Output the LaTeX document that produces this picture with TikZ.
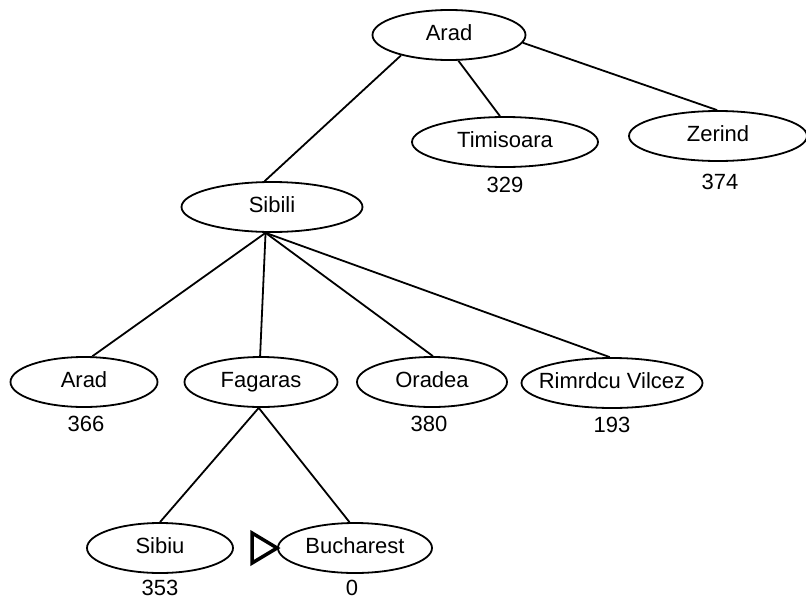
\documentclass[tikz,border=0pt]{standalone}
\usepackage{fontspec}
\setmainfont{Liberation Sans}
\usetikzlibrary{shapes.geometric}
% zero-width label so the ellipse size is set only by its style
\newcommand\cityname[1]{\makebox[0pt]{\vphantom{Ag}#1}}

\begin{document}
\begin{tikzpicture}[x=1pt,y=-1pt,
  every node/.style={font=\fontsize{22}{26}\selectfont},
  city/.style={ellipse, draw, line width=1.8pt, inner sep=0pt,
               minimum height=50pt, minimum width=#1},
  cost/.style={inner sep=0pt},
  link/.style={line width=1.8pt}]
\useasboundingbox (0,0) rectangle (806,600);

% search tree nodes
\node[city=153] (aradT) at (449,35)  {\cityname{Arad}};
\node[city=186] (tim)   at (505,142) {\cityname{Timisoara}};
\node[city=178] (zer)   at (718,136) {\cityname{Zerind}};
\node[city=181] (sib)   at (272,207) {\cityname{Sibili}};
\node[city=147] (aradB) at (84,382)  {\cityname{Arad}};
\node[city=153] (fag)   at (261,382) {\cityname{Fagaras}};
\node[city=150] (ora)   at (432,382) {\cityname{Oradea}};
\node[city=181] (rim)   at (612,383) {\cityname{Rimrdcu Vilcez}};
\node[city=146] (sibiu) at (160,548) {\cityname{Sibiu}};
\node[city=154] (buc)   at (355,548) {\cityname{Bucharest}};

% heuristic values
\node[cost] (hTim)   at (505,185) {329};
\node[cost] (hZer)   at (720,182) {374};
\node[cost] (hAradB) at (86,424)  {366};
\node[cost] (hOra)   at (429,424) {380};
\node[cost] (hRim)   at (612,425) {193};
\node[cost] (hSibiu) at (160,588) {353};
\node[cost] (hBuc)   at (352,588) {0};

% tree edges
\draw[link] (aradT.203) -- (sib.106);
\draw[link] (aradT.290) -- (tim.101);
\draw[link] (aradT.354) -- (zer.92);
\draw[link] (sib.256) -- (aradB.72);
\draw[link] (sib.256) -- (fag.92);
\draw[link] (sib.256) -- (ora.88);
\draw[link] (sib.256) -- (rim.95);
\draw[link] (fag.265) -- (sibiu.90);
\draw[link] (fag.265) -- (buc.102);

% goal marker
\draw[line width=3.5pt, miter limit=10] (buc.west) -- ++(-25,15) -- ++(0,-30) -- cycle;
\end{tikzpicture}
\end{document}
